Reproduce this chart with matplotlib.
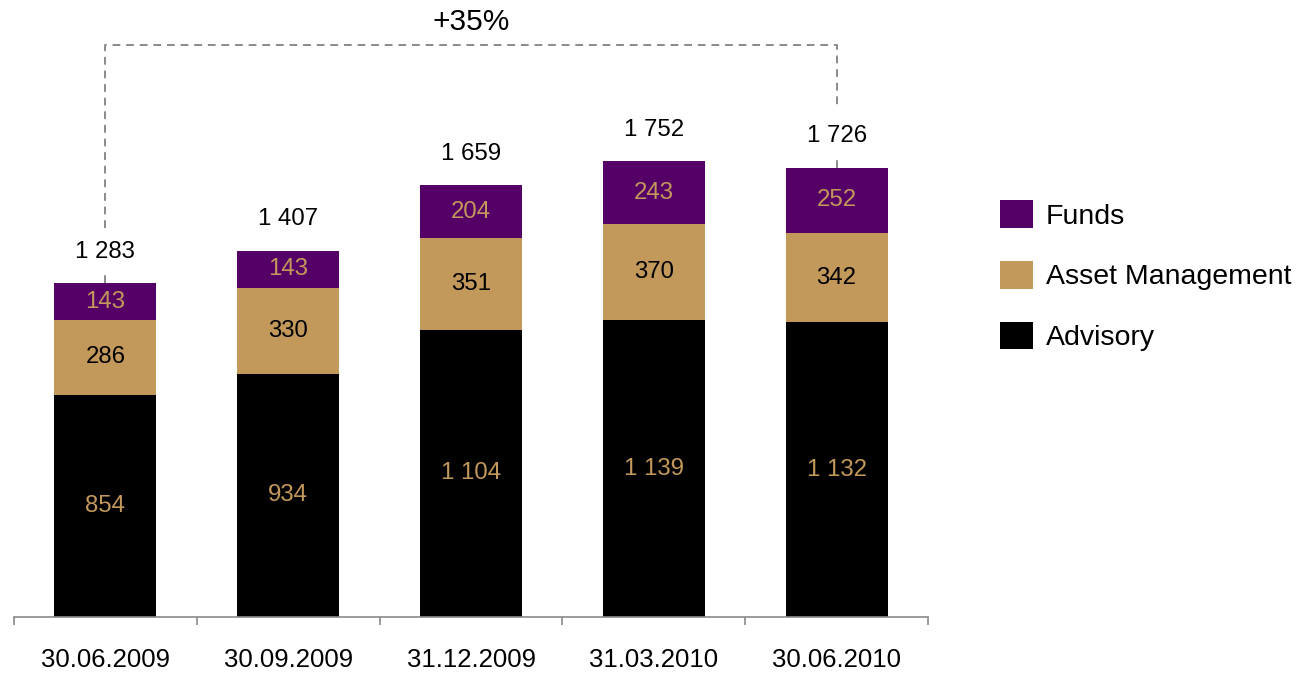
import matplotlib.pyplot as plt
from matplotlib.patches import Patch

# AuM by business line (EUR m)
dates = ["30.06.2009", "30.09.2009", "31.12.2009", "31.03.2010", "30.06.2010"]
advisory = [854, 934, 1104, 1139, 1132]
asset_mgmt = [286, 330, 351, 370, 342]
funds = [143, 143, 204, 243, 252]
growth_label = "+35%"

PURPLE = "#550066"
TAN = "#C3985B"
BLACK = "#000000"
GREY = "#8a8a8a"

plt.rcParams["font.family"] = ["Liberation Sans", "DejaVu Sans"]


def fmt(v):
    return f"{v:,}".replace(",", " ")


fig = plt.figure(figsize=(13.03, 6.74), dpi=100)
ax = fig.add_axes([14 / 1303, 57 / 674, 914 / 1303, 1 - 57 / 674])

x = list(range(len(dates)))
w = 0.558
totals = [a + b + c for a, b, c in zip(advisory, asset_mgmt, funds)]
base2 = advisory
base3 = [a + b for a, b in zip(advisory, asset_mgmt)]

ax.bar(x, advisory, w, color=BLACK, linewidth=0)
ax.bar(x, asset_mgmt, w, bottom=base2, color=TAN, linewidth=0)
ax.bar(x, funds, w, bottom=base3, color=PURPLE, linewidth=0)

# segment values
for i in x:
    ax.text(i, advisory[i] / 2, fmt(advisory[i]), ha="center", va="center",
            fontsize=17.3, color=TAN)
    ax.text(i, base2[i] + asset_mgmt[i] / 2, fmt(asset_mgmt[i]),
            ha="center", va="center", fontsize=17.3, color=BLACK)
    ax.text(i, base3[i] + funds[i] / 2, fmt(funds[i]), ha="center",
            va="center", fontsize=17.3, color=TAN)
    ax.text(i, totals[i] + 120, fmt(totals[i]), ha="center", va="center",
            fontsize=17.3, color=BLACK)

# growth bracket between first and last date
top = 2197
first, last = x[0], x[-1]
dash = dict(color=GREY, lw=1.4, ls=(0, (4, 3)))
ax.plot([first, first, last, last],
        [totals[first] + 210, top, top, totals[last] + 230], **dash)
ax.plot([first, first], [totals[first], totals[first] + 50], **dash)
ax.plot([last, last], [totals[last], totals[last] + 45], **dash)
ax.text((first + last) / 2, 2286, growth_label, ha="center", va="center",
        fontsize=21.5)

ax.set_xlim(-0.5, len(dates) - 0.5)
ax.set_ylim(0, 2370)
for s in ("left", "top", "right"):
    ax.spines[s].set_visible(False)
ax.spines["bottom"].set_color(GREY)
ax.spines["bottom"].set_linewidth(1.2)
ax.set_yticks([])
ax.set_xticks(x)
ax.set_xticklabels(dates, fontsize=18.5)
ax.tick_params(axis="x", which="major", length=0, pad=22)
ax.set_xticks([i - 0.5 for i in range(len(dates) + 1)], minor=True)
ax.tick_params(axis="x", which="minor", length=6, width=1.2, color=GREY,
               direction="out")

handles = [Patch(facecolor=PURPLE, label="Funds"),
           Patch(facecolor=TAN, label="Asset Management"),
           Patch(facecolor=BLACK, label="Advisory")]
fig.legend(handles=handles, loc="upper left",
           bbox_to_anchor=(1000 / 1303, 1 - 200 / 674), frameon=False,
           fontsize=20.5, handlelength=1.16, handleheight=1.12,
           handletextpad=0.45, labelspacing=1.1, borderpad=0,
           borderaxespad=0)

fig.savefig("out.png", dpi=100)
